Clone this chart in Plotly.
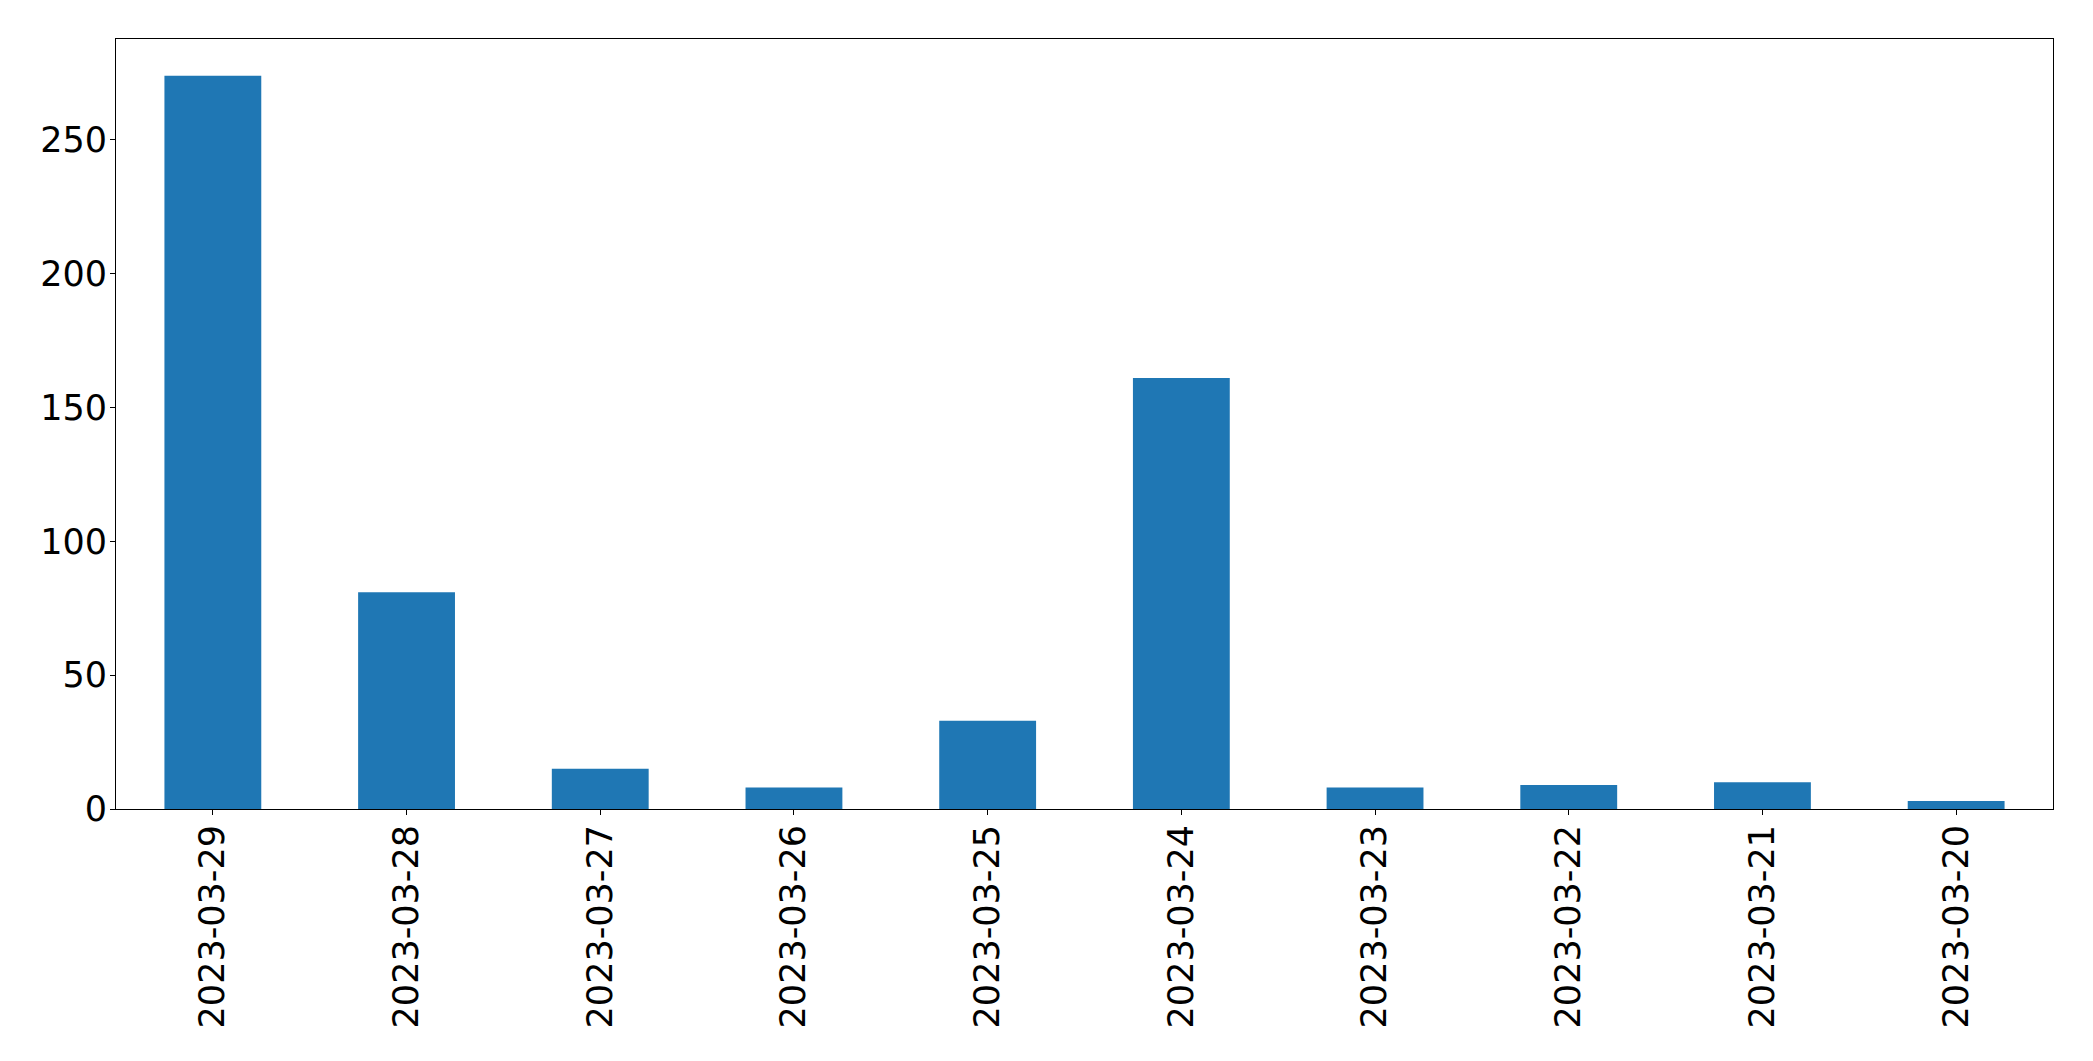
import plotly.graph_objects as go

dates = ["2023-03-29", "2023-03-28", "2023-03-27", "2023-03-26", "2023-03-25",
         "2023-03-24", "2023-03-23", "2023-03-22", "2023-03-21", "2023-03-20"]
counts = [274, 81, 15, 8, 33, 161, 8, 9, 10, 3]
y_ticks = [0, 50, 100, 150, 200, 250]

fig = go.Figure()
fig.add_trace(go.Bar(x=dates, y=counts, marker=dict(color="#1f77b4", line=dict(width=0))))

fig.update_layout(
    width=2077, height=1045,
    margin=dict(l=108, r=32, t=31, b=244),
    paper_bgcolor="white", plot_bgcolor="white",
    bargap=0.5,
    showlegend=False,
    font=dict(family="DejaVu Sans", size=35, color="black"),
)
fig.update_xaxes(
    type="category", range=[-0.5, len(dates) - 0.5],
    tickangle=-90, showgrid=False, zeroline=False,
    showline=True, linecolor="black", linewidth=1, mirror=True,
    ticks="outside", ticklen=5, tickcolor="black",
    ticklabelstandoff=-4,
    tickfont=dict(family="DejaVu Sans", size=35, color="black"),
)
fig.update_yaxes(
    range=[0, 287.7], tickvals=y_ticks, showgrid=False, zeroline=False,
    showline=True, linecolor="black", linewidth=1, mirror=True,
    ticks="outside", ticklen=5, tickcolor="black",
    ticklabelstandoff=-4,
    tickfont=dict(family="DejaVu Sans", size=35, color="black"),
)

fig.write_html("out.html")
